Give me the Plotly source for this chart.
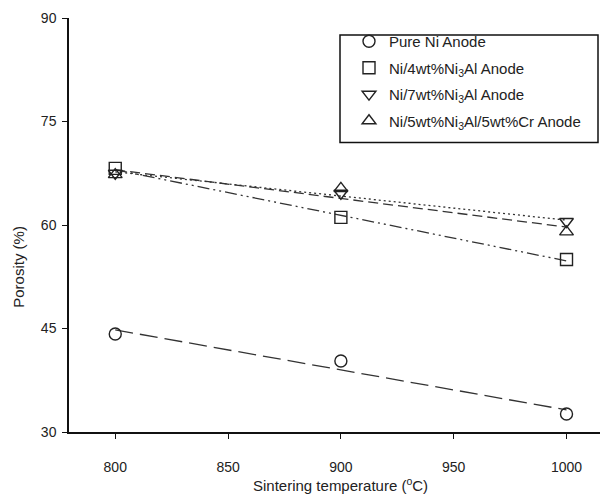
import plotly.graph_objects as go

# ---- data ----
temps = [800, 900, 1000]
series_names = [
    "Pure Ni Anode",
    "Ni/4wt%Ni<sub>3</sub>Al Anode",
    "Ni/7wt%Ni<sub>3</sub>Al Anode",
    "Ni/5wt%Ni<sub>3</sub>Al/5wt%Cr Anode",
]
pure_ni = [44.2, 40.3, 32.6]
ni_4wt = [68.2, 61.1, 55.0]
ni_7wt = [67.5, 64.6, 60.5]
ni_5wt_cr = [67.3, 65.3, 59.0]

# trend lines (end points)
fit_x = [800, 1000]
fit_pure_ni = [44.8, 33.2]
fit_4wt = [68.0, 54.8]
fit_7wt = [67.7, 60.7]
fit_5wt_cr = [68.0, 59.7]

x_ticks = [800, 850, 900, 950, 1000]
y_ticks = [30, 45, 60, 75, 90]

# ---- styling ----
# the page body has an 8px default margin, so the figure is 8px smaller
OFF = 8
W, H = 608 - OFF, 498 - OFF
L, R, T, B = 69 - OFF, 2, 16 - OFF, 498 - 432
pw, ph = W - L - R, H - T - B
FONT = "Liberation Sans, Arial, sans-serif"
INK = "#222222"

def px_x(p):  # page pixel -> paper fraction
    return (p - OFF - L) / pw

def px_y(p):
    return (H - B - (p - OFF)) / ph

symbols = ["circle-open", "square-open", "triangle-down-open", "triangle-up-open"]
dashes = ["18px,7px", "12px,4px,2px,4px,2px,4px", "2px,3px", "10px,5px"]
values = [pure_ni, ni_4wt, ni_7wt, ni_5wt_cr]
fits = [fit_pure_ni, fit_4wt, fit_7wt, fit_5wt_cr]

fig = go.Figure()
for i in range(4):
    fig.add_trace(go.Scatter(
        x=fit_x, y=fits[i], mode="lines",
        line=dict(color="#333333", width=1.3, dash=dashes[i]),
        showlegend=False, hoverinfo="skip",
    ))
for i in range(4):
    fig.add_trace(go.Scatter(
        x=temps, y=values[i], mode="markers", name=series_names[i],
        legendgroup=f"g{i}",
        marker=dict(symbol=symbols[i], size=12, color=INK,
                    line=dict(color=INK, width=1.4)),
        cliponaxis=False,
    ))

fig.update_layout(
    width=W, height=H,
    margin=dict(l=L, r=R, t=T, b=B, pad=0),
    paper_bgcolor="white", plot_bgcolor="white",
    font=dict(family=FONT, size=14, color=INK),
    showlegend=True,
    legend=dict(
        x=px_x(349), y=px_y(23), xanchor="left", yanchor="top",
        bgcolor="rgba(0,0,0,0)", borderwidth=0,
        font=dict(family=FONT, size=15, color=INK),
        tracegroupgap=4, traceorder="grouped",
    ),
    xaxis=dict(
        range=[779.5, 1017.5], tickvals=x_ticks, ticks="outside", ticklen=5,
        tickwidth=1.3, tickcolor="#111", showline=True, linecolor="#111",
        linewidth=1.5, showgrid=False, zeroline=False, ticklabelstandoff=16,
        ticklabeloverflow="allow",
        tickfont=dict(size=14, family=FONT, color=INK),
    ),
    yaxis=dict(
        range=[30, 90], tickvals=y_ticks, ticks="outside", ticklen=5,
        tickwidth=1.3, tickcolor="#111", showline=True, linecolor="#111",
        linewidth=1.5, showgrid=False, zeroline=False, ticklabelstandoff=3,
        ticklabeloverflow="allow",
        tickfont=dict(size=14, family=FONT, color=INK),
    ),
    shapes=[dict(
        type="rect", xref="paper", yref="paper",
        x0=px_x(340), x1=px_x(598), y0=px_y(141), y1=px_y(33),
        line=dict(color="#111", width=1.5), fillcolor="rgba(0,0,0,0)",
    )],
    annotations=[
        dict(text="Sintering temperature (<sup>o</sup>C)", xref="paper", yref="paper",
             x=px_x(340), y=px_y(485), xanchor="center", yanchor="middle",
             showarrow=False, font=dict(size=15, family=FONT, color=INK)),
        dict(text="Porosity (%)", xref="paper", yref="paper",
             x=px_x(19), y=px_y(266), xanchor="center", yanchor="middle",
             textangle=-90, showarrow=False,
             font=dict(size=15, family=FONT, color=INK)),
    ],
)

fig.write_html("out.html")
